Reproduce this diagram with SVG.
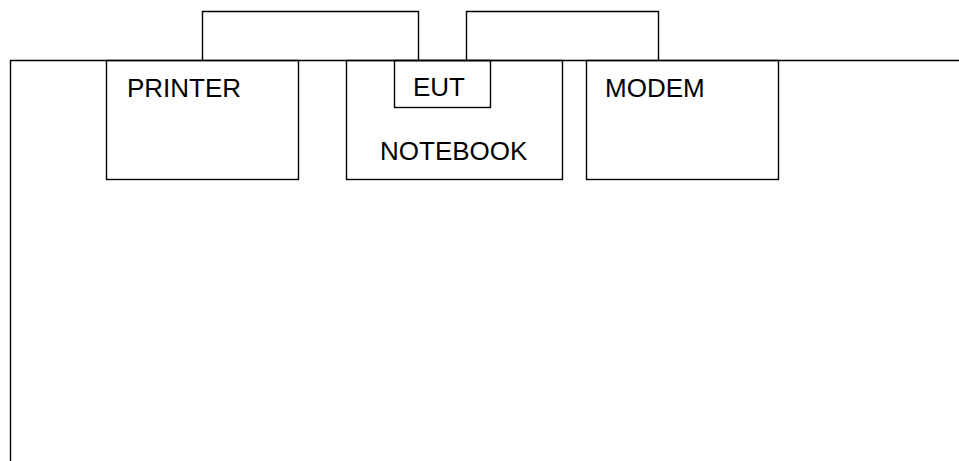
<svg xmlns="http://www.w3.org/2000/svg" width="959" height="461" viewBox="0 0 959 461">
<style>
.b{fill:none;stroke:#000;stroke-width:1.4}
.t{font-family:"Liberation Sans",Arial,sans-serif;font-size:26px;fill:#000}
</style>
<rect width="959" height="461" fill="#fff"/>
<g id="frame"><path class="b" d="M10.5,461 V60.5 H959"/></g>
<g id="printer"><rect class="b" x="106.5" y="60.5" width="192" height="119"/><text class="t" x="127" y="96.5">PRINTER</text></g>
<g id="notebook"><rect class="b" x="346.5" y="60.5" width="216" height="119"/><text class="t" x="380" y="160">NOTEBOOK</text></g>
<g id="eut"><rect class="b" x="394.5" y="60.5" width="96" height="47"/><text class="t" x="413" y="96">EUT</text></g>
<g id="modem"><rect class="b" x="586.5" y="60.5" width="192" height="119"/><text class="t" x="605" y="96.5">MODEM</text></g>
<g id="connectors">
<path class="b" d="M202.5,60.5 V11.5 H418.5 V60.5"/>
<path class="b" d="M466.5,60.5 V11.5 H658.5 V60.5"/>
</g>
</svg>
